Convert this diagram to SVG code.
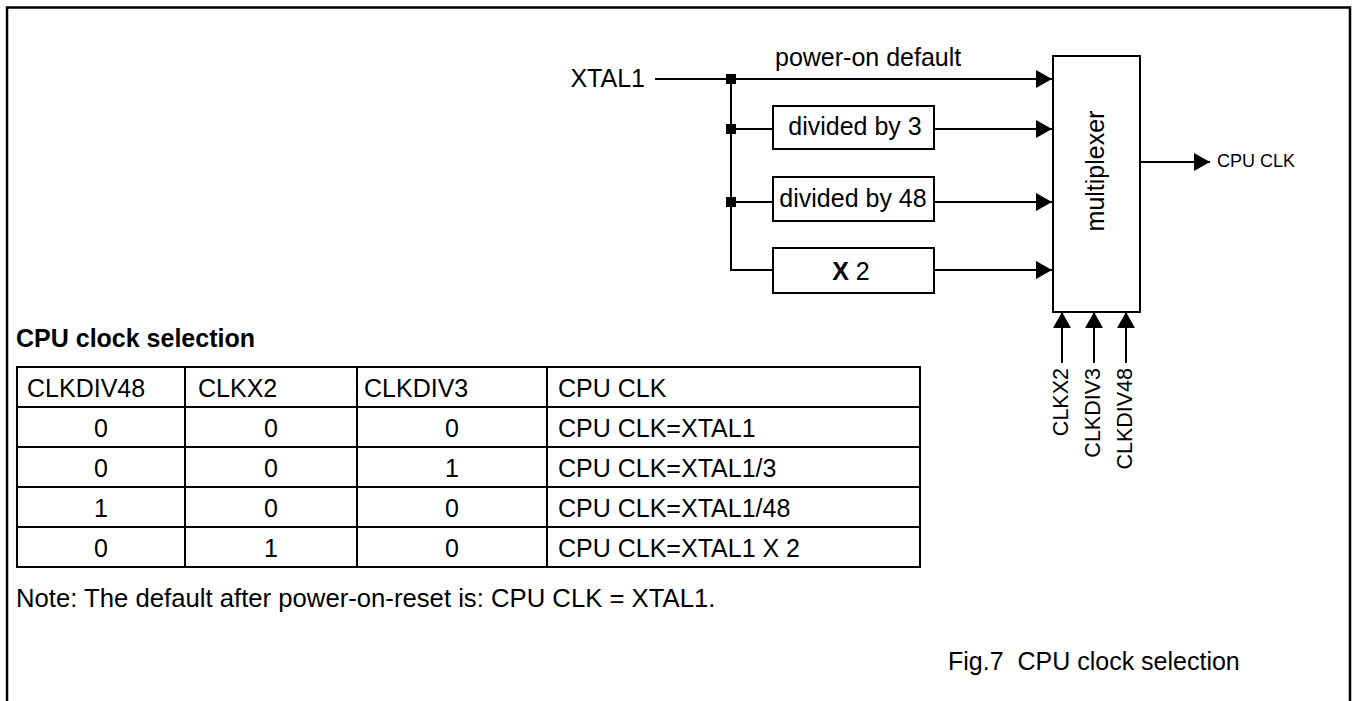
<svg xmlns="http://www.w3.org/2000/svg" width="1352" height="701" viewBox="0 0 1352 701">
<style>
text{font-family:"Liberation Sans",Arial,sans-serif;fill:#000;font-size:25px}
.ln{fill:none;stroke:#000;stroke-width:2}
.box{fill:#fff;stroke:#000;stroke-width:2}
.c{text-anchor:middle}
.e{text-anchor:end}
.sm{font-size:21.5px}
.b{font-weight:bold}
</style>
<defs>
<marker id="arr" markerUnits="userSpaceOnUse" markerWidth="16" markerHeight="18" refX="16" refY="9" orient="auto">
<path d="M0,0 L16,9 L0,18 z" fill="#000"/>
</marker>
</defs>
<rect width="1352" height="701" fill="#fff"/>
<path d="M7,701 V7.5 H1350 V701" fill="none" stroke="#000" stroke-width="2.5"/>

<g id="connectors">
<path class="ln" d="M655,79 H1052" marker-end="url(#arr)"/>
<path class="ln" d="M731,79 V270 H773"/>
<path class="ln" d="M731,129 H773"/>
<path class="ln" d="M731,202 H773"/>
<path class="ln" d="M934,129 H1052" marker-end="url(#arr)"/>
<path class="ln" d="M934,202 H1052" marker-end="url(#arr)"/>
<path class="ln" d="M934,270 H1052" marker-end="url(#arr)"/>
<path class="ln" d="M1140,162 H1210" marker-end="url(#arr)"/>
<path class="ln" d="M1062,363 V312" marker-end="url(#arr)"/>
<path class="ln" d="M1094,363 V312" marker-end="url(#arr)"/>
<path class="ln" d="M1126,363 V312" marker-end="url(#arr)"/>
<rect x="726" y="74" width="10" height="10" fill="#000"/>
<rect x="726" y="124" width="10" height="10" fill="#000"/>
<rect x="726" y="197" width="10" height="10" fill="#000"/>
</g>

<g id="xtal1"><text class="e" x="645" y="87">XTAL1</text></g>
<g id="power-on-default"><text x="775" y="66">power-on default</text></g>
<g id="div3"><rect class="box" x="773" y="106" width="161" height="43"/><text class="c" x="855" y="135">divided by 3</text></g>
<g id="div48"><rect class="box" x="773" y="177" width="161" height="44"/><text class="c" x="853" y="207">divided by 48</text></g>
<g id="x2"><rect class="box" x="773" y="248" width="161" height="45"/><text class="c" x="851" y="280"><tspan class="b">X</tspan> 2</text></g>
<g id="mux"><rect class="box" x="1053" y="56" width="87" height="256"/><text class="c" transform="translate(1104,171) rotate(-90)">multiplexer</text></g>
<g id="cpuclk"><text x="1217" y="167" style="font-size:18px">CPU CLK</text></g>
<g id="sel-labels">
<text class="e sm" transform="translate(1068,368) rotate(-90)">CLKX2</text>
<text class="e sm" transform="translate(1100,368) rotate(-90)">CLKDIV3</text>
<text class="e sm" transform="translate(1132,368) rotate(-90)">CLKDIV48</text>
</g>

<g id="table">
<text class="b" x="16" y="347">CPU clock selection</text>
<path class="ln" d="M17,367 H920 V567 H17 Z M17,407 H920 M17,447 H920 M17,487 H920 M17,527 H920 M185,367 V567 M357,367 V567 M547,367 V567"/>
<text x="27" y="397">CLKDIV48</text>
<text x="198" y="397">CLKX2</text>
<text x="364" y="397">CLKDIV3</text>
<text x="558" y="397">CPU CLK</text>
<text class="c" x="101" y="437">0</text><text class="c" x="271" y="437">0</text><text class="c" x="452" y="437">0</text><text x="558" y="437">CPU CLK=XTAL1</text>
<text class="c" x="101" y="477">0</text><text class="c" x="271" y="477">0</text><text class="c" x="452" y="477">1</text><text x="558" y="477">CPU CLK=XTAL1/3</text>
<text class="c" x="101" y="517">1</text><text class="c" x="271" y="517">0</text><text class="c" x="452" y="517">0</text><text x="558" y="517">CPU CLK=XTAL1/48</text>
<text class="c" x="101" y="557">0</text><text class="c" x="271" y="557">1</text><text class="c" x="452" y="557">0</text><text x="558" y="557">CPU CLK=XTAL1 X 2</text>
</g>
<g id="note"><text x="16" y="607" style="font-size:25.7px">Note: The default after power-on-reset is: CPU CLK = XTAL1.</text></g>
<g id="caption"><text x="948" y="670" xml:space="preserve">Fig.7  CPU clock selection</text></g>
</svg>
